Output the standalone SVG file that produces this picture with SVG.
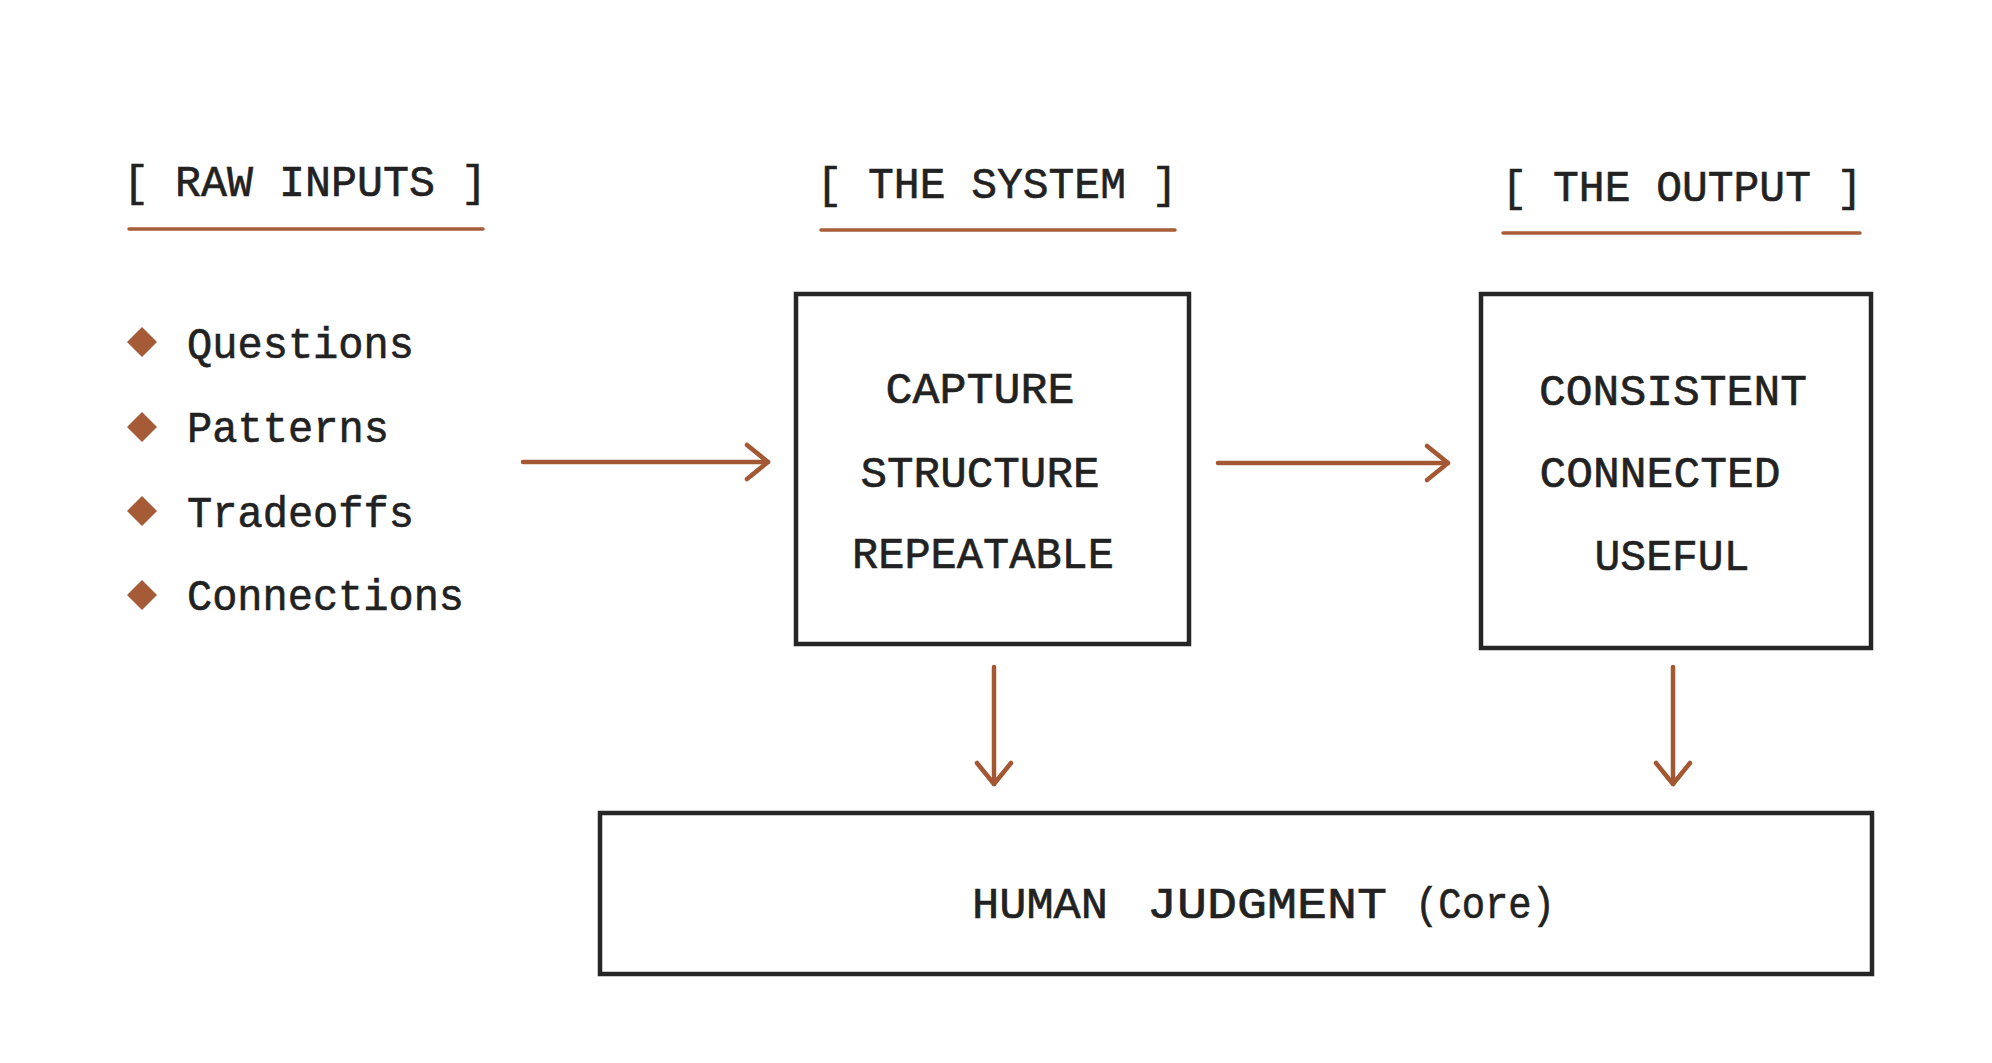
<svg xmlns="http://www.w3.org/2000/svg" width="1992" height="1063" viewBox="0 0 1992 1063">
  <style>
    .t { font-family: "Liberation Mono", "DejaVu Sans Mono", monospace; fill: #222222; stroke: #222222; stroke-width: 0.6; }
    .hdr { font-size: 44px; text-anchor: middle; }
    .item { font-size: 44px; }
    .box-t { font-size: 44px; text-anchor: middle; }
    .rule { stroke: #a85c38; stroke-width: 3.5; stroke-linecap: round; fill: none; }
    .box { fill: #ffffff; stroke: #262626; stroke-width: 4.5; }
    .conn { stroke: #a35733; stroke-width: 4.5; stroke-linecap: round; fill: none; }
    .bullet { fill: #a65b37; }
  </style>
  <defs>
    <marker id="arrow" viewBox="-28 -22 32 44" refX="0" refY="0" markerWidth="32" markerHeight="44" markerUnits="userSpaceOnUse" orient="auto">
      <path d="M -21 -17 L 0 0 L -21 17" fill="none" stroke="#a35733" stroke-width="4.5" stroke-linecap="round" stroke-linejoin="round"/>
    </marker>
  </defs>
  <rect width="1992" height="1063" fill="#ffffff"/>

  <g id="header-raw-inputs">
    <text class="t hdr" x="305" y="196" textLength="364" lengthAdjust="spacingAndGlyphs">[ RAW INPUTS ]</text>
    <line class="rule" x1="129" y1="229" x2="483" y2="229"/>
  </g>
  <g id="header-the-system">
    <text class="t hdr" x="997" y="198" textLength="361" lengthAdjust="spacingAndGlyphs">[ THE SYSTEM ]</text>
    <line class="rule" x1="821" y1="230" x2="1175" y2="230"/>
  </g>
  <g id="header-the-output">
    <text class="t hdr" x="1682" y="201" textLength="361" lengthAdjust="spacingAndGlyphs">[ THE OUTPUT ]</text>
    <line class="rule" x1="1503" y1="233" x2="1860" y2="233"/>
  </g>

  <g id="raw-inputs">
    <g id="input-questions">
      <path class="bullet" d="M142 327 L157 342 L142 357 L127 342 Z"/>
      <text class="t item" x="187" y="358" textLength="227" lengthAdjust="spacingAndGlyphs">Questions</text>
    </g>
    <g id="input-patterns">
      <path class="bullet" d="M142 412 L157 427 L142 442 L127 427 Z"/>
      <text class="t item" x="187" y="442" textLength="202" lengthAdjust="spacingAndGlyphs">Patterns</text>
    </g>
    <g id="input-tradeoffs">
      <path class="bullet" d="M142 496 L157 511 L142 526 L127 511 Z"/>
      <text class="t item" x="187" y="527" textLength="227" lengthAdjust="spacingAndGlyphs">Tradeoffs</text>
    </g>
    <g id="input-connections">
      <path class="bullet" d="M142 580 L157 595 L142 610 L127 595 Z"/>
      <text class="t item" x="187" y="610" textLength="277" lengthAdjust="spacingAndGlyphs">Connections</text>
    </g>
  </g>

  <g id="system">
    <rect class="box" x="796" y="294" width="393" height="350"/>
    <text class="t box-t" x="980" y="403" textLength="189" lengthAdjust="spacingAndGlyphs">CAPTURE</text>
    <text class="t box-t" x="980" y="487" textLength="239" lengthAdjust="spacingAndGlyphs">STRUCTURE</text>
    <text class="t box-t" x="983" y="568" textLength="262" lengthAdjust="spacingAndGlyphs">REPEATABLE</text>
  </g>

  <g id="output">
    <rect class="box" x="1481" y="294" width="390" height="354"/>
    <text class="t box-t" x="1673" y="405" textLength="268" lengthAdjust="spacingAndGlyphs">CONSISTENT</text>
    <text class="t box-t" x="1660" y="487" textLength="241" lengthAdjust="spacingAndGlyphs">CONNECTED</text>
    <text class="t box-t" x="1672" y="570" textLength="155" lengthAdjust="spacingAndGlyphs">USEFUL</text>
  </g>

  <g id="human-judgment">
    <rect class="box" x="600" y="813" width="1272" height="161"/>
    <text class="t box-t" x="1040" y="918" font-size="46" textLength="136" lengthAdjust="spacingAndGlyphs">HUMAN</text>
    <text class="t box-t" x="1267" y="918" font-size="46" textLength="240" lengthAdjust="spacingAndGlyphs">JUDGMENT</text>
    <text class="t box-t" x="1485" y="918" font-size="40" textLength="140" lengthAdjust="spacingAndGlyphs">(Core)</text>
  </g>

  <g id="connectors">
    <path class="conn" d="M523 462 L768 462" marker-end="url(#arrow)"/>
    <path class="conn" d="M1218 463 L1448 463" marker-end="url(#arrow)"/>
    <path class="conn" d="M994 667 L994 784" marker-end="url(#arrow)"/>
    <path class="conn" d="M1673 667 L1673 784" marker-end="url(#arrow)"/>
  </g>
</svg>
